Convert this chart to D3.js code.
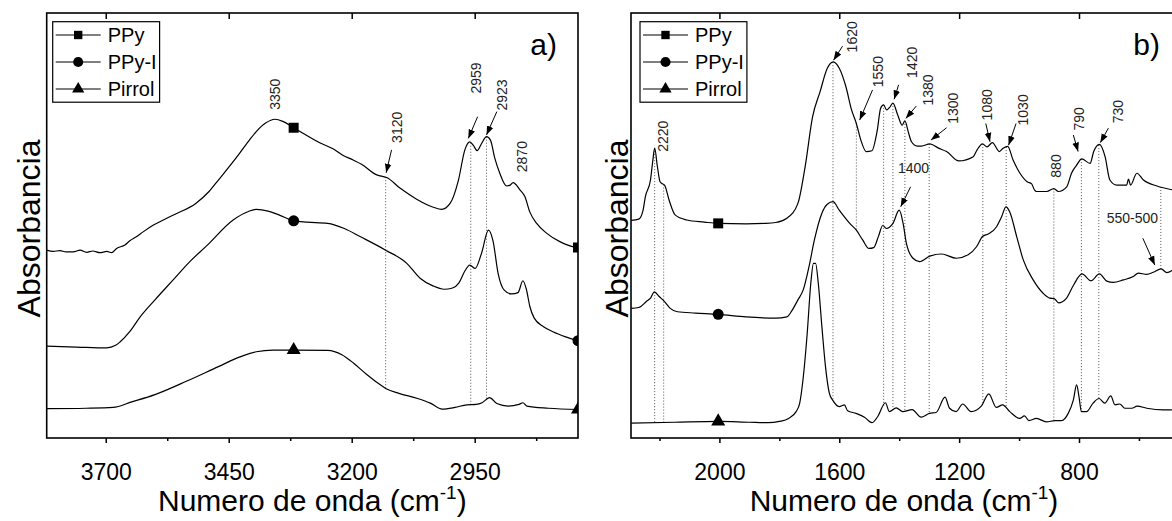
<!DOCTYPE html>
<html>
<head>
<meta charset="utf-8">
<script src="https://cdn.jsdelivr.net/npm/d3@7"></script>
<style>
  html, body { margin: 0; padding: 0; background: #fff; }
  svg { display: block; font-family: "Liberation Sans", Arial, Helvetica, sans-serif; }
</style>
</head>
<body>
<svg id="chart" width="1172" height="521"></svg>
<script>
// ---------------------------------------------------------------
// FTIR spectra (offset absorbance, arbitrary units) of PPy, PPy-I and pyrrole
// Each series: [wavenumber (cm-1), absorbance]
// ---------------------------------------------------------------
const seriesNames = ["PPy", "PPy-I", "Pirrol"];
const seriesSymbols = ["square", "circle", "triangle"];

// Panel a): 3820 - 2740 cm-1
const ppyHigh = [
  [3820,44.2],[3807,43.9],[3793,44.1],[3781,43.8],[3766,43.8],[3752,44.2],[3739,43.7],[3726,44.0],
  [3712,43.6],[3698,43.9],[3688,43.6],[3678,44.6],[3661,45.4],[3651,46.4],[3637,47.4],[3624,48.5],
  [3603,50.1],[3583,51.3],[3560,52.6],[3517,55.2],[3490,58.0],[3471,60.7],[3433,66.2],[3410,69.8],
  [3394,72.1],[3375,74.1],[3356,75.0],[3340,74.5],[3318,73.0],[3305,72.1],[3264,69.4],[3237,68.0],
  [3219,66.6],[3197,65.4],[3180,64.4],[3149,61.9],[3139,61.6],[3129,61.3],[3102,58.8],[3068,56.2],
  [3034,54.3],[3017,53.8],[3000,55.2],[2983,60.7],[2970,67.8],[2960,69.7],[2953,68.9],[2945,67.6],
  [2936,69.3],[2926,70.9],[2918,70.1],[2909,65.8],[2899,62.3],[2885,59.3],[2878,59.5],[2872,60.1],
  [2858,58.4],[2848,56.8],[2838,53.2],[2824,50.5],[2804,48.2],[2777,46.2],[2746,44.9],[2740,44.8]
];
const ppyiHigh = [
  [3820,21.6],[3760,21.4],[3698,21.2],[3680,21.8],[3671,22.6],[3650,25.2],[3630,28.5],[3600,32.5],
  [3563,37.2],[3530,41.4],[3495,45.2],[3441,51.3],[3410,53.3],[3394,53.8],[3370,53.4],[3348,52.5],
  [3318,51.1],[3290,50.8],[3249,50.5],[3215,49.3],[3183,47.4],[3131,44.2],[3088,41.1],[3061,37.6],
  [3035,35.8],[3012,35.0],[2995,35.3],[2982,36.5],[2970,39.3],[2960,40.7],[2949,39.9],[2936,43.5],
  [2922,48.9],[2913,46.5],[2902,38.5],[2890,34.8],[2875,33.9],[2862,34.2],[2852,37.0],[2845,35.0],
  [2838,31.0],[2829,28.2],[2810,26.2],[2791,25.0],[2765,23.8],[2740,22.9]
];
const pirrolHigh = [
  [3820,6.9],[3740,7.0],[3685,7.2],[3647,8.5],[3600,10.2],[3535,13.4],[3471,16.8],[3427,19.1],
  [3394,20.3],[3360,20.7],[3318,20.7],[3249,20.6],[3220,19.6],[3196,17.6],[3170,15.0],[3150,13.2],
  [3130,11.6],[3104,10.5],[3066,9.3],[3040,8.2],[3016,6.8],[2990,7.2],[2966,7.8],[2947,7.9],
  [2935,8.3],[2920,9.5],[2905,8.1],[2882,7.5],[2860,7.9],[2852,8.3],[2844,7.5],[2800,7.0],[2740,6.7]
];

// Panel b): 2295 - 473 cm-1
const ppyLow = [
  [2294,51.2],[2269,51.5],[2255,53.5],[2247,56.8],[2230,60.7],[2222,65.4],[2216,68.2],[2207,63.9],
  [2198,60.3],[2190,59.8],[2183,59.5],[2168,56.0],[2148,52.5],[2109,51.3],[2050,50.8],[2004,50.5],
  [1911,50.4],[1850,50.5],[1812,50.7],[1775,51.7],[1738,55.2],[1714,63.8],[1689,75.6],[1664,81.5],
  [1640,87.0],[1620,88.5],[1600,87.0],[1578,82.7],[1559,77.2],[1543,74.0],[1528,70.1],[1510,67.4],
  [1491,67.6],[1473,72.5],[1462,77.6],[1452,78.4],[1442,77.2],[1432,77.8],[1421,78.8],[1405,76.0],
  [1390,73.6],[1381,74.6],[1370,72.1],[1359,69.7],[1340,68.7],[1326,68.7],[1298,69.2],[1269,68.2],
  [1242,67.4],[1201,65.2],[1153,66.2],[1140,67.8],[1122,69.2],[1107,68.5],[1089,69.5],[1066,67.4],
  [1053,68.2],[1038,68.6],[1020,65.4],[997,62.3],[973,60.3],[958,59.8],[948,58.3],[942,58.0],
  [908,58.0],[884,58.7],[869,58.0],[841,59.1],[825,62.3],[808,64.2],[791,65.7],[763,64.6],
  [751,67.4],[732,69.1],[713,66.2],[697,60.7],[674,59.5],[641,59.5],[635,60.9],[628,59.5],
  [607,62.3],[585,60.7],[540,59.3],[489,58.4]
];
const ppyiLow = [
  [2294,30.5],[2269,30.7],[2244,32.1],[2230,32.9],[2217,34.4],[2201,33.3],[2183,32.1],[2164,30.5],
  [2140,29.7],[2080,29.4],[2004,29.1],[1911,28.5],[1812,28.2],[1775,28.5],[1757,30.1],[1738,32.5],
  [1720,34.9],[1701,40.3],[1683,46.6],[1658,52.9],[1640,55.0],[1621,55.6],[1600,53.6],[1565,50.5],
  [1543,48.9],[1522,46.6],[1501,44.6],[1485,44.8],[1469,47.5],[1455,50.0],[1443,49.3],[1421,50.5],
  [1400,53.6],[1387,50.5],[1376,45.8],[1354,42.3],[1332,41.5],[1298,42.8],[1259,43.3],[1209,42.3],
  [1170,43.1],[1142,45.0],[1122,47.4],[1103,48.0],[1075,49.7],[1058,52.1],[1044,54.4],[1031,53.2],
  [1008,47.4],[986,41.9],[953,37.2],[919,34.0],[897,32.9],[883,32.8],[868,31.8],[843,32.8],
  [818,36.0],[790,38.6],[760,37.0],[732,38.6],[707,36.9],[686,36.6],[652,37.2],[619,38.0],
  [602,38.8],[574,38.5],[552,39.0],[526,39.8],[507,38.9],[489,39.4]
];
const pirrolLow = [
  [2294,3.5],[2150,3.7],[2004,3.9],[1900,3.7],[1837,3.6],[1800,3.9],[1769,4.6],[1744,6.2],
  [1732,8.2],[1720,14.4],[1707,24.6],[1695,36.4],[1686,41.1],[1679,41.1],[1670,36.4],[1658,26.2],
  [1646,16.8],[1633,10.5],[1622,8.9],[1600,7.4],[1583,7.8],[1572,6.4],[1544,5.8],[1516,4.9],
  [1491,3.6],[1472,5.0],[1446,8.3],[1433,6.2],[1410,7.1],[1388,6.2],[1357,6.7],[1327,4.9],
  [1299,5.8],[1277,6.0],[1247,9.6],[1232,7.0],[1210,6.2],[1188,8.0],[1160,6.2],[1126,7.5],
  [1101,10.4],[1076,7.2],[1055,7.8],[1031,6.2],[998,4.6],[982,5.2],[967,4.1],[942,4.6],
  [909,3.8],[880,4.1],[858,4.1],[836,5.8],[819,8.9],[808,12.5],[800,9.7],[792,6.2],
  [775,6.2],[753,8.2],[733,9.3],[714,8.2],[694,9.9],[680,7.8],[664,8.0],[647,7.0],
  [624,7.0],[606,7.5],[574,7.0],[519,6.6],[490,6.6]
];

// Axis ticks
const ticksA = [3700, 3450, 3200, 2950];
const minorTicksA = [3575, 3325, 3075, 2825];
const ticksB = [2000, 1600, 1200, 800];
const minorTicksB = [2200, 1800, 1400, 1000, 600];

// Wavenumbers where the series symbols sit
const symbolWnA = [3318, 2740];
const symbolWnB = [2004];

// Dotted guide lines: band position, from series index to series index
const guidesA = [
  {wn: 3131, from: 0, to: 2}, {wn: 2958, from: 0, to: 2}, {wn: 2926, from: 0, to: 2}
];
const guidesB = [
  {wn: 2216, from: 0, to: 2}, {wn: 2186, from: 0, to: 2}, {wn: 1621, from: 0, to: 2},
  {wn: 1543, from: 0, to: 1}, {wn: 1452, from: 0, to: 2}, {wn: 1421, from: 0, to: 2},
  {wn: 1381, from: 0, to: 2}, {wn: 1300, from: 0, to: 2}, {wn: 1121, from: 0, to: 2},
  {wn: 1043, from: 0, to: 2}, {wn: 884, from: 0, to: 2}, {wn: 792, from: 0, to: 2},
  {wn: 734, from: 0, to: 2}, {wn: 527, from: 0, to: 1}
];

// Band labels (position in wavenumber / absorbance units)
const bandLabelsA = [
  {text: "3350", wn: 3356, abs: 80.9, vertical: true},
  {text: "3120", wn: 3109, abs: 73.1, vertical: true},
  {text: "2959", wn: 2947, abs: 84.7, vertical: true},
  {text: "2923", wn: 2895, abs: 80.7, vertical: true},
  {text: "2870", wn: 2853, abs: 66.2, vertical: true}
];
const bandLabelsB = [
  {text: "2220", wn: 2189, abs: 71.0, vertical: true},
  {text: "1620", wn: 1558, abs: 94.4, vertical: true},
  {text: "1550", wn: 1471, abs: 86.2, vertical: true},
  {text: "1420", wn: 1358, abs: 88.4, vertical: true},
  {text: "1380", wn: 1304, abs: 81.9, vertical: true},
  {text: "1300", wn: 1222, abs: 77.6, vertical: true},
  {text: "1080", wn: 1106, abs: 78.4, vertical: true},
  {text: "1030", wn: 988, abs: 77.2, vertical: true},
  {text: "880", wn: 877, abs: 64.0, vertical: true},
  {text: "790", wn: 801, abs: 75.1, vertical: true},
  {text: "730", wn: 669, abs: 76.8, vertical: true},
  {text: "1400", wn: 1352, abs: 63.5, vertical: false},
  {text: "550-500", wn: 622, abs: 51.8, vertical: false}
];

// Arrows: [tail, head] in [wavenumber, absorbance]
const arrowsA = [
  [[3119, 67.8], [3130, 62.4]],
  [[2944, 75.6], [2963, 70.5]],
  [[2905, 76.8], [2926, 71.3]]
];
const arrowsB = [
  [[1589, 92.2], [1619, 88.9]],
  [[1489, 81.9], [1532, 74.8]],
  [[1402, 83.1], [1417, 79.7]],
  [[1343, 78.1], [1378, 75.2]],
  [[1242, 73.0], [1294, 70.1]],
  [[1111, 74.0], [1097, 69.7]],
  [[1010, 74.0], [1035, 68.9]],
  [[819, 71.3], [803, 67.4]],
  [[702, 72.9], [729, 69.5]],
  [[1362, 59.1], [1395, 54.4]],
  [[587, 47.0], [547, 40.7]]
];

// ---------------------------------------------------------------
// Layout
// ---------------------------------------------------------------
const plotTop = 13, plotBottom = 438;
const panels = [
  {
    id: "a", tag: "a)", domain: [3820, 2740], range: [46.7, 578],
    series: [ppyHigh, ppyiHigh, pirrolHigh],
    ticks: ticksA, minor: minorTicksA, symbolWn: symbolWnA,
    guides: guidesA, labels: bandLabelsA, arrows: arrowsA,
    legendX: 52.7, yTitleX: 40, tagInset: 21
  },
  {
    id: "b", tag: "b)", domain: [2295, 473], range: [631, 1177],
    series: [ppyLow, ppyiLow, pirrolLow],
    ticks: ticksB, minor: minorTicksB, symbolWn: symbolWnB,
    guides: guidesB, labels: bandLabelsB, arrows: arrowsB,
    legendX: 640, yTitleX: 628, tagInset: 17
  }
];

const svg = d3.select("#chart");
const defs = svg.append("defs");
defs.append("marker")
  .attr("id", "arrowhead")
  .attr("viewBox", "0 0 10 10")
  .attr("refX", 10).attr("refY", 5)
  .attr("markerWidth", 9).attr("markerHeight", 9)
  .attr("markerUnits", "userSpaceOnUse")
  .attr("orient", "auto")
  .append("path").attr("d", "M0,1.3L10,5L0,8.7Z").attr("fill", "#000");

const symbolTypes = {square: d3.symbolSquare, circle: d3.symbolCircle, triangle: d3.symbolTriangle};
const symbolSizes = {square: 100, circle: 95, triangle: 85};
const legendSymbolSizes = {square: 70, circle: 80, triangle: 65};

// linear interpolation along a series ordered by decreasing wavenumber
function valueAt(series, wn) {
  for (let i = 0; i < series.length - 1; i++) {
    const [w0, a0] = series[i], [w1, a1] = series[i + 1];
    if (wn <= w0 && wn >= w1) {
      const t = (w0 - wn) / (w0 - w1);
      return a0 + t * (a1 - a0);
    }
  }
  return wn > series[0][0] ? series[0][1] : series[series.length - 1][1];
}

function drawPanel(p) {
  const x = d3.scaleLinear().domain(p.domain).range(p.range);
  const y = d3.scaleLinear().domain([0, 100]).range([plotBottom, plotTop]);
  const g = svg.append("g").attr("class", "panel-" + p.id);
  const left = p.range[0], right = p.range[1];

  defs.append("clipPath").attr("id", "clip-" + p.id)
    .append("rect")
    .attr("x", left).attr("y", plotTop)
    .attr("width", right - left).attr("height", plotBottom - plotTop);

  const plot = g.append("g").attr("clip-path", `url(#clip-${p.id})`);

  // dotted band guides
  plot.selectAll("line.guide").data(p.guides).join("line")
    .attr("class", "guide")
    .attr("x1", d => x(d.wn)).attr("x2", d => x(d.wn))
    .attr("y1", d => y(valueAt(p.series[d.from], d.wn)))
    .attr("y2", d => y(valueAt(p.series[d.to], d.wn)))
    .attr("stroke", "#555").attr("stroke-width", 1)
    .attr("stroke-dasharray", "1,2");

  // spectra
  const line = d3.line().x(d => x(d[0])).y(d => y(d[1])).curve(d3.curveMonotoneX);
  plot.selectAll("path.spectrum").data(p.series).join("path")
    .attr("class", "spectrum")
    .attr("d", line)
    .attr("fill", "none").attr("stroke", "#000").attr("stroke-width", 1.2);

  // series symbols
  p.series.forEach((s, i) => {
    const type = seriesSymbols[i];
    plot.selectAll(null).data(p.symbolWn).join("path")
      .attr("transform", wn => `translate(${x(wn)},${y(valueAt(s, wn))})`)
      .attr("d", d3.symbol().type(symbolTypes[type]).size(symbolSizes[type]))
      .attr("fill", "#000");
  });

  // band labels
  g.selectAll("text.band").data(p.labels).join("text")
    .attr("class", "band")
    .attr("transform", d => `translate(${x(d.wn)},${y(d.abs)})` + (d.vertical ? " rotate(-90)" : ""))
    .attr("text-anchor", "middle")
    .attr("dy", "0.36em")
    .attr("font-size", 14)
    .attr("fill", "#222")
    .text(d => d.text);

  // arrows
  g.selectAll("line.arrow").data(p.arrows).join("line")
    .attr("class", "arrow")
    .attr("x1", d => x(d[0][0])).attr("y1", d => y(d[0][1]))
    .attr("x2", d => x(d[1][0])).attr("y2", d => y(d[1][1]))
    .attr("stroke", "#000").attr("stroke-width", 1)
    .attr("marker-end", "url(#arrowhead)");

  // frame
  g.append("rect")
    .attr("x", left).attr("y", plotTop)
    .attr("width", right - left).attr("height", plotBottom - plotTop)
    .attr("fill", "none").attr("stroke", "#000").attr("stroke-width", 1.6);

  // bottom axis (major + minor, outward)
  const major = d3.axisBottom(x).tickValues(p.ticks).tickSize(5).tickPadding(21)
    .tickFormat(d3.format("d"));
  g.append("g").attr("transform", `translate(0,${plotBottom})`).call(major)
    .call(a => a.select(".domain").remove())
    .call(a => a.selectAll(".tick line").attr("stroke-width", 1.5))
    .call(a => a.selectAll("text").attr("font-size", 23)
      .attr("font-family", "'Liberation Sans', Arial, sans-serif").attr("fill", "#000"));
  const minor = d3.axisBottom(x).tickValues(p.minor).tickSize(3).tickFormat("");
  g.append("g").attr("transform", `translate(0,${plotBottom})`).call(minor)
    .call(a => a.select(".domain").remove())
    .call(a => a.selectAll(".tick line").attr("stroke-width", 1.5));

  // top axis (major ticks pointing inward)
  const top = d3.axisTop(x).tickValues(p.ticks).tickSize(-6).tickFormat("");
  g.append("g").attr("transform", `translate(0,${plotTop})`).call(top)
    .call(a => a.select(".domain").remove())
    .call(a => a.selectAll(".tick line").attr("stroke-width", 1.5));

  // axis titles
  const xTitle = g.append("text")
    .attr("x", (left + right) / 2).attr("y", 511)
    .attr("text-anchor", "middle").attr("font-size", 30).attr("fill", "#000");
  xTitle.append("tspan").text("Numero de onda (cm");
  xTitle.append("tspan").attr("font-size", 19).attr("dy", -12).text("-1");
  xTitle.append("tspan").attr("dy", 12).text(")");

  g.append("text")
    .attr("transform", `translate(${p.yTitleX},${(plotTop + plotBottom) / 2 + 3}) rotate(-90)`)
    .attr("text-anchor", "middle").attr("font-size", 32).attr("fill", "#000")
    .text("Absorbancia");

  // panel tag
  g.append("text")
    .attr("x", right - p.tagInset).attr("y", 55)
    .attr("text-anchor", "end").attr("font-size", 30).attr("fill", "#000")
    .text(p.tag);

  // legend
  const lg = g.append("g").attr("transform", `translate(${p.legendX},21.7)`);
  const rowY = [13.3, 40.3, 67.3];
  const box = lg.append("rect").attr("fill", "#fff").attr("stroke", "#000").attr("stroke-width", 1.2);
  let maxW = 0;
  seriesNames.forEach((name, i) => {
    const type = seriesSymbols[i];
    lg.append("line").attr("x1", 3).attr("x2", 48).attr("y1", rowY[i]).attr("y2", rowY[i])
      .attr("stroke", "#000").attr("stroke-width", 1.2);
    lg.append("path").attr("transform", `translate(25.5,${rowY[i]})`)
      .attr("d", d3.symbol().type(symbolTypes[type]).size(legendSymbolSizes[type]))
      .attr("fill", "#000");
    const t = lg.append("text").attr("x", 55).attr("y", rowY[i]).attr("dy", "0.36em")
      .attr("font-size", 20).attr("fill", "#000").text(name);
    maxW = Math.max(maxW, t.node().getComputedTextLength());
  });
  box.attr("x", 0).attr("y", 0).attr("width", 55 + maxW + 3).attr("height", 80.5);
}

panels.forEach(drawPanel);
</script>
</body>
</html>
